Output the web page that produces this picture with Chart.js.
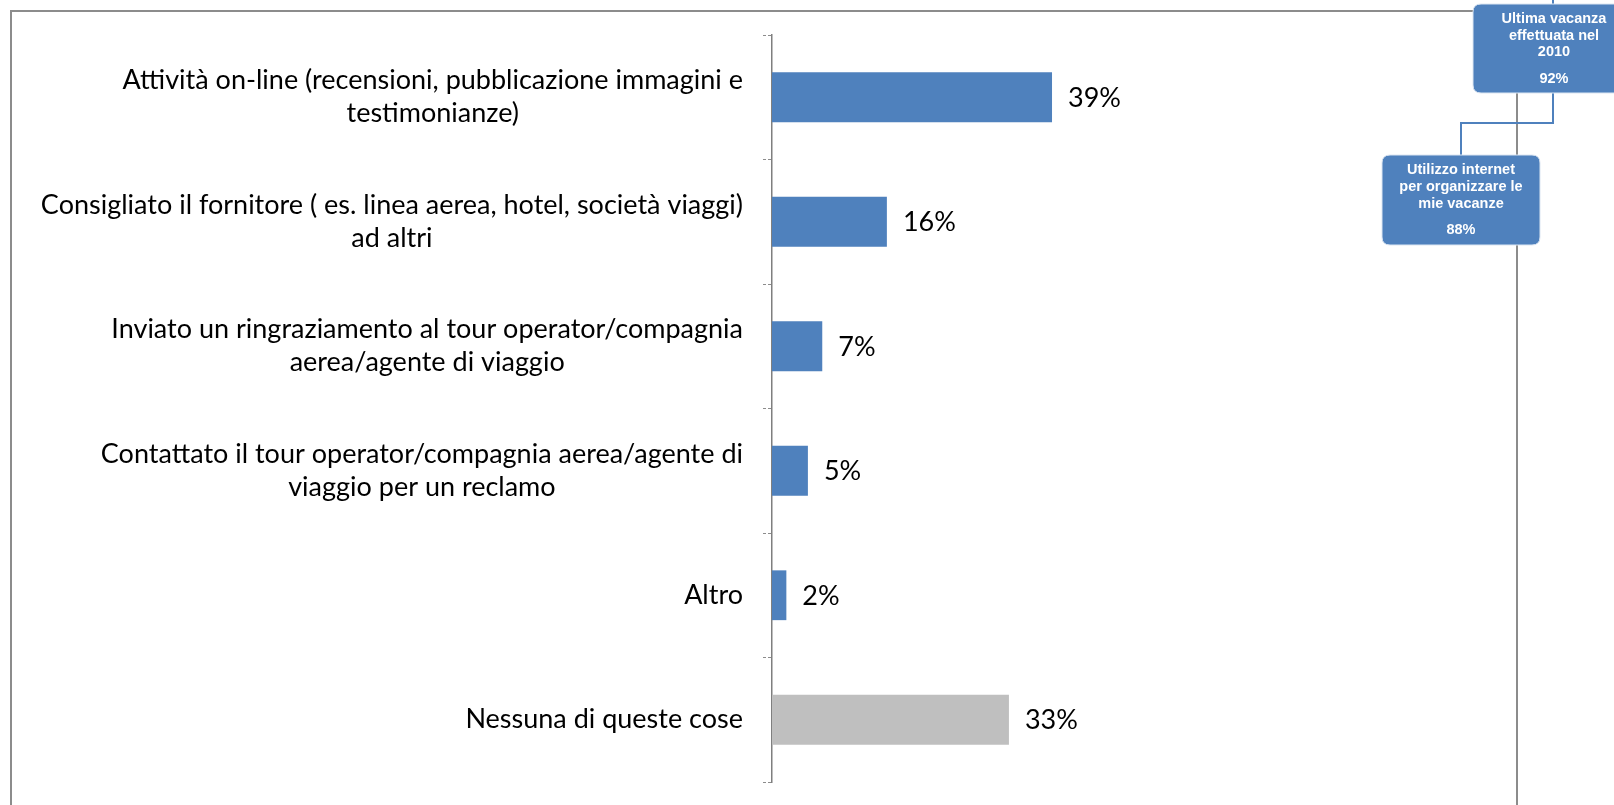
<!DOCTYPE html>
<html>
<head>
<meta charset="utf-8">
<script src="https://cdn.jsdelivr.net/npm/chart.js"></script>
<style>
  html, body { margin: 0; padding: 0; background: #fff; }
  #wrap { width: 1614px; height: 805px; }
</style>
</head>
<body>
<div id="wrap"><canvas id="myChart" width="1614" height="805"></canvas></div>
<script>
// categorie (etichette su più righe)
var categorie = [
  ["Attività on-line (recensioni, pubblicazione immagini e", "testimonianze)"],
  ["Consigliato il fornitore ( es. linea aerea, hotel, società viaggi)", "ad altri"],
  ["Inviato un ringraziamento al tour operator/compagnia", "aerea/agente di viaggio"],
  ["Contattato il tour operator/compagnia aerea/agente di", "viaggio per un reclamo"],
  "Altro",
  "Nessuna di queste cose"
];
var valori = [39, 16, 7, 5, 2, 33];

// riquadri dell'organigramma in alto a destra
var box1Testo = ["Ultima vacanza", "effettuata nel", "2010"];
var box1Valore = "92%";
var box2Testo = ["Utilizzo internet", "per organizzare le", "mie vacanze"];
var box2Valore = "88%";

var FONT = "Lato, 'Open Sans', sans-serif";
var BLU = '#4f81bd';

function roundRect(ctx, x, y, w, h, r) {
  ctx.beginPath();
  ctx.moveTo(x + r, y);
  ctx.lineTo(x + w - r, y);
  ctx.quadraticCurveTo(x + w, y, x + w, y + r);
  ctx.lineTo(x + w, y + h - r);
  ctx.quadraticCurveTo(x + w, y + h, x + w - r, y + h);
  ctx.lineTo(x + r, y + h);
  ctx.quadraticCurveTo(x, y + h, x, y + h - r);
  ctx.lineTo(x, y + r);
  ctx.quadraticCurveTo(x, y, x + r, y);
  ctx.closePath();
}

function disegnaBox(ctx, x, y, w, h, righe, valore, ys) {
  roundRect(ctx, x, y, w, h, 8);
  ctx.fillStyle = BLU;
  ctx.fill();
  ctx.strokeStyle = '#dce6f2';
  ctx.lineWidth = 1;
  ctx.stroke();
  ctx.fillStyle = '#fff';
  ctx.font = "bold 14.5px 'Liberation Sans', Arial, sans-serif";
  ctx.textAlign = 'center';
  ctx.textBaseline = 'middle';
  var cx = x + w / 2;
  righe.forEach(function (r, i) { ctx.fillText(r, cx, ys[i]); });
  ctx.fillText(valore, cx, ys[3]);
}

// cornice, connettori e riquadri
var decorazioni = {
  id: 'decorazioni',
  beforeDraw: function (chart) {
    var ctx = chart.ctx;
    ctx.save();
    ctx.fillStyle = '#fff';
    ctx.fillRect(0, 0, chart.width, chart.height);
    ctx.strokeStyle = '#8c8c8c';
    ctx.lineWidth = 2;
    ctx.beginPath();
    ctx.moveTo(11, 805); ctx.lineTo(11, 11); ctx.lineTo(1480, 11);
    ctx.moveTo(1517, 11); ctx.lineTo(1517, 805);
    ctx.stroke();
    ctx.restore();
  },
  afterDraw: function (chart) {
    var ctx = chart.ctx;
    ctx.save();
    ctx.strokeStyle = BLU;
    ctx.lineWidth = 2;
    ctx.beginPath();
    ctx.moveTo(1553, 0); ctx.lineTo(1553, 5);
    ctx.moveTo(1553, 92); ctx.lineTo(1553, 123); ctx.lineTo(1461, 123); ctx.lineTo(1461, 156);
    ctx.stroke();
    disegnaBox(ctx, 1473, 4, 162, 89, box1Testo, box1Valore, [19, 36, 52, 79]);
    disegnaBox(ctx, 1382, 155, 158, 90, box2Testo, box2Valore, [170, 187, 204, 230]);
    ctx.restore();
  }
};

// etichette delle categorie: blocco allineato a destra, righe centrate
var etichette = {
  id: 'etichette',
  afterDatasetsDraw: function (chart) {
    var ctx = chart.ctx;
    var y = chart.scales.y;
    var destra = y.right - 29;
    ctx.save();
    ctx.font = '27px ' + FONT;
    ctx.fillStyle = '#000';
    ctx.textAlign = 'center';
    ctx.textBaseline = 'middle';
    categorie.forEach(function (lab, i) {
      var righe = Array.isArray(lab) ? lab : [lab];
      var larg = Math.max.apply(null, righe.map(function (r) { return ctx.measureText(r).width; }));
      var cx = destra - larg / 2;
      var cy = y.getPixelForTick(i);
      var lh = 33;
      righe.forEach(function (r, k) {
        ctx.fillText(r, cx, cy - (righe.length - 1) * lh / 2 + k * lh);
      });
    });
    // valori a fine barra
    var meta = chart.getDatasetMeta(0);
    ctx.textAlign = 'left';
    meta.data.forEach(function (bar, i) {
      ctx.fillText(valori[i] + '%', bar.x + 16, bar.y + 1);
    });
    ctx.restore();
  }
};

var ctx = document.getElementById('myChart').getContext('2d');
var myChart = new Chart(ctx, {
  type: 'bar',
  data: {
    labels: categorie,
    datasets: [{
      data: valori,
      backgroundColor: valori.map(function (v, i) { return i === valori.length - 1 ? '#bfbfbf' : BLU; }),
      borderWidth: 0,
      barPercentage: 0.4,
      categoryPercentage: 1
    }]
  },
  options: {
    indexAxis: 'y',
    responsive: false,
    animation: false,
    layout: { padding: { left: 0, right: 124, top: 35, bottom: 23 } },
    plugins: { legend: { display: false }, tooltip: { enabled: false } },
    scales: {
      x: { display: false, min: 0, max: 100 },
      y: {
        afterFit: function (scale) { scale.width = 772; },
        ticks: { display: false },
        grid: {
          offset: true,
          drawOnChartArea: false,
          drawTicks: true,
          tickLength: 9,
          color: '#8c8c8c',
          tickBorderDash: [3, 2]
        },
        border: { display: true, color: '#7f7f7f', width: 1.5, dash: [4, 3] }
      }
    }
  },
  plugins: [decorazioni, etichette]
});
</script>
</body>
</html>
